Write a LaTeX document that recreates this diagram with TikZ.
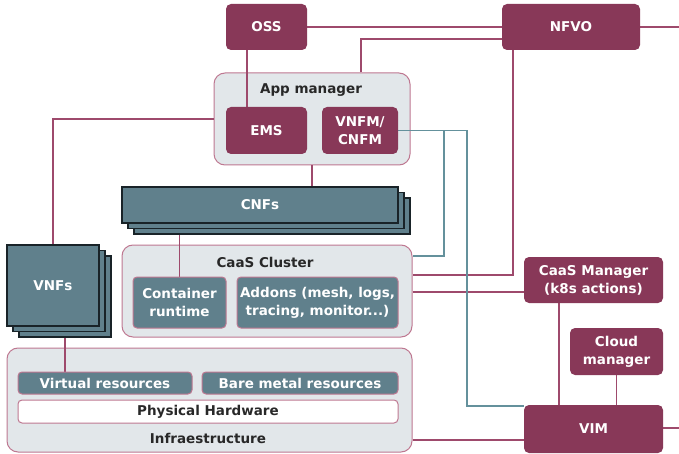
\documentclass[tikz,border=0pt]{standalone}
\usepackage{fontspec}
\setmainfont{DejaVu Sans}
\usetikzlibrary{shadows}
\pgfdeclarelayer{back}
\pgfdeclarelayer{lines}
\pgfsetlayers{back,lines,main}
\definecolor{maroon}{RGB}{136,56,88}
\definecolor{mlinec}{RGB}{158,74,108}
\definecolor{tlinec}{RGB}{100,145,156}
\definecolor{tealbox}{RGB}{96,128,140}
\definecolor{stackborder}{RGB}{25,35,40}
\definecolor{contfill}{RGB}{226,231,234}
\definecolor{contborder}{RGB}{190,120,145}
\definecolor{darktext}{RGB}{40,40,40}
\begin{document}
\begin{tikzpicture}[x=1pt,y=-1pt,
  font=\fontsize{13.5}{18}\selectfont\bfseries,
  mbox/.style={fill=maroon, draw=none, rounded corners=5pt, text=white, inner sep=0pt, align=center},
  cont/.style={fill=contfill, draw=contborder, line width=1pt, rounded corners=11pt, inner sep=0pt},
  tbox/.style={fill=tealbox, draw=contborder, line width=1pt, rounded corners=4pt, text=white, align=center, inner sep=0pt},
  wbox/.style={fill=white, draw=contborder, line width=1pt, rounded corners=4pt, text=darktext, align=center, inner sep=0pt},
  lbl/.style={text=darktext, inner sep=0pt},
  stackbox/.style={fill=tealbox, draw=stackborder, line width=1.2pt, text=white, inner sep=0pt, align=center,
    copy shadow={shadow xshift=12pt, shadow yshift=-11pt, fill=tealbox, draw=stackborder, line width=1.2pt},
    copy shadow={shadow xshift=6pt, shadow yshift=-5.5pt, fill=tealbox, draw=stackborder, line width=1.2pt}},
  mline/.style={draw=mlinec, line width=1.7pt},
  tline/.style={draw=tlinec, line width=1.7pt}
]
\useasboundingbox (0,0) rectangle (679,454);

% containers
\begin{pgfonlayer}{back}
\node[cont, minimum width=196pt, minimum height=92pt] (am) at (312,119) {};
\node[cont, minimum width=290pt, minimum height=92pt] (caas) at (267,291) {};
\node[cont, minimum width=405pt, minimum height=104pt] (infra) at (209.5,400) {};
\end{pgfonlayer}
\node[lbl] (amlabel) at (311,90) {App manager};
\node[lbl] (caaslabel) at (265,262) {CaaS Cluster};
\node[lbl] (infralabel) at (208,438) {Infraestructure};

% coordinates
\coordinate (eR1) at (679,27);
\coordinate (eR2) at (679,428);
\coordinate (t1) at (444,256);
\coordinate (t2) at (467,406);

% boxes
\node[mbox, minimum width=81pt, minimum height=46pt] (oss) at (266.5,27) {OSS};
\node[mbox, minimum width=138pt, minimum height=46pt] (nfvo) at (571,27) {NFVO};
\node[mbox, minimum width=81pt, minimum height=47pt] (ems) at (266.5,130.5) {EMS};
\node[mbox, minimum width=76pt, minimum height=47pt] (vnfm) at (360,130.5) {VNFM/\\CNFM};
\node[mbox, minimum width=139pt, minimum height=46pt] (cm) at (593.5,280) {CaaS Manager\\(k8s actions)};
\node[mbox, minimum width=93pt, minimum height=47pt] (clm) at (616.5,351.5) {Cloud\\manager};
\node[mbox, minimum width=139pt, minimum height=48pt] (vim) at (593.5,429) {VIM};
\node[tbox, minimum width=93pt, minimum height=51pt] (cr) at (179.5,302.5) {Container\\runtime};
\node[tbox, minimum width=161pt, minimum height=51pt] (addons) at (317.5,302.5) {Addons (mesh, logs,\\tracing, monitor...)};
\node[tbox, minimum width=174pt, minimum height=22pt] (vr) at (105,383) {Virtual resources};
\node[tbox, minimum width=196pt, minimum height=22pt] (bm) at (300,383) {Bare metal resources};
\node[wbox, minimum width=380pt, minimum height=23pt] (ph) at (208,411.5) {Physical Hardware};
\node[stackbox, minimum width=276pt, minimum height=36pt] (cnfs) at (260,205) {CNFs};
\node[stackbox, minimum width=92pt, minimum height=81pt] (vnfs) at (53,285.5) {VNFs};

% connectors
\begin{pgfonlayer}{lines}
\draw[mline] (oss.east) -- (nfvo.west);
\draw[mline] (nfvo.east) -- (eR1);
\draw[mline] ([xshift=49pt]am.north) |- ([yshift=-12pt]nfvo.west);
\draw[mline] ([xshift=-58pt]nfvo.south) |- ([yshift=16pt]caas.east);
\draw[mline] ([yshift=-1pt]caas.east) -- ([yshift=-1pt]caas.east -| cm.west);
\draw[mline] ([xshift=-19.5pt]oss.south) -- ([xshift=-19.5pt]oss.south |- ems.north);
\draw[mline] (am.west) -| (vnfs.north);
\draw[mline] (am.south) -- (am.south |- cnfs.north);
\draw[mline] (cr.north) -- (cr.north |- cnfs.south);
\draw[mline] ([xshift=-40pt]vr.north) -- ([xshift=-40pt]vr.north |- vnfs.south);
\draw[mline] ([yshift=-40pt]infra.east) -- ([yshift=-40pt]infra.east -| vim.west);
\draw[mline] (vim.east |- eR2) -- (eR2);
\draw[mline] ([xshift=-34.5pt]cm.south) -- ([xshift=-34.5pt]cm.south |- vim.north);
\draw[mline] (clm.south) -- (clm.south |- vim.north);
\draw[tline] (vnfm.east) -| (t1) -- (t1 -| caas.east);
\draw[tline] (vnfm.east) -| (t2) -- (t2 -| vim.west);
\end{pgfonlayer}
\end{tikzpicture}
\end{document}
